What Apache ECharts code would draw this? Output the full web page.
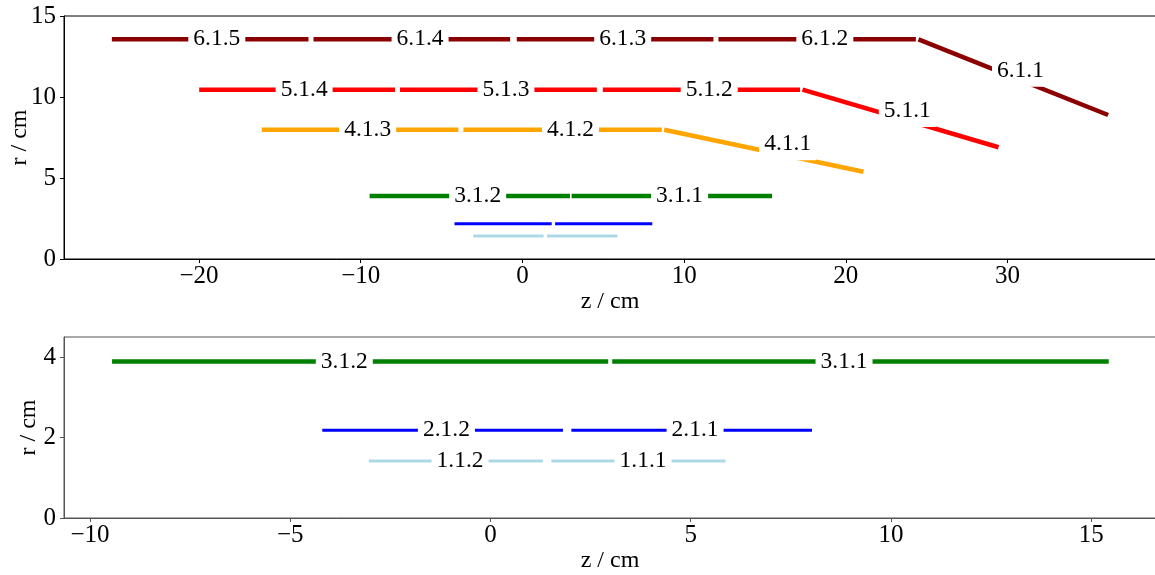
<!DOCTYPE html>
<html>
<head>
<meta charset="utf-8">
<script src="https://cdn.jsdelivr.net/npm/echarts@6/dist/echarts.min.js"></script>
<style>
html,body{margin:0;padding:0;background:#fff;}
#chart{width:1155px;height:575px;}
</style>
</head>
<body>
<div id="chart"></div>
<script>
// ---- data (z / cm, r / cm) ----
// Layer 6 (dark red)
const L6_z0 = [-25.39, -12.92, -0.35, 12.12, 24.49];
const L6_z1 = [-13.23, -0.76, 11.81, 24.33, 36.22];
const L6_r0 = [13.56, 13.56, 13.56, 13.56, 13.56];
const L6_r1 = [13.56, 13.56, 13.56, 13.56, 8.89];
const L6_names = ['6.1.5', '6.1.4', '6.1.3', '6.1.2', '6.1.1'];
const L6_labelZ = [-18.9, -6.33, 6.2, 18.7, 30.8];
const L6_labelR = [13.56, 13.56, 13.56, 13.56, 11.62];
// Layer 5 (red)
const L5_z0 = [-19.99, -7.57, 4.97, 17.32];
const L5_z1 = [-7.88, 4.60, 17.17, 29.44];
const L5_r0 = [10.45, 10.45, 10.45, 10.45];
const L5_r1 = [10.45, 10.45, 10.45, 6.90];
const L5_names = ['5.1.4', '5.1.3', '5.1.2', '5.1.1'];
const L5_labelZ = [-13.5, -1.02, 11.55, 23.8];
const L5_labelR = [10.45, 10.45, 10.45, 9.14];
// Layer 4 (orange)
const L4_z0 = [-16.12, -3.65, 8.76];
const L4_z1 = [-3.96, 8.62, 21.09];
const L4_r0 = [7.98, 7.98, 7.98];
const L4_r1 = [7.98, 7.98, 5.39];
const L4_names = ['4.1.3', '4.1.2', '4.1.1'];
const L4_labelZ = [-9.57, 2.97, 16.4];
const L4_labelR = [7.98, 7.98, 7.08];
// Layer 3 (green)
const L3_z0 = [-9.45, 3.04];
const L3_z1 = [2.94, 15.44];
const L3_r = [3.89, 3.89];
const L3_names = ['3.1.2', '3.1.1'];
const L3_labelZ_top = [-2.77, 9.72];
const L3_labelZ_bottom = [-3.65, 8.83];
// Layer 2 (blue)
const L2_z0 = [-4.20, 2.02];
const L2_z1 = [1.81, 8.03];
const L2_r = [2.18, 2.18];
const L2_names = ['2.1.2', '2.1.1'];
const L2_labelZ_bottom = [-1.1, 5.11];
// Layer 1 (light blue)
const L1_z0 = [-3.04, 1.52];
const L1_z1 = [1.31, 5.87];
const L1_r = [1.42, 1.42];
const L1_names = ['1.1.2', '1.1.1'];
const L1_labelZ_bottom = [-0.76, 3.81];
// tick labels
const topXTicks = [-20, -10, 0, 10, 20, 30];
const topYTicks = [0, 5, 10, 15];
const botXTicks = [-10, -5, 0, 5, 10, 15];
const botYTicks = [0, 2, 4];

const FONT = "'Liberation Serif', 'Times New Roman', Times, serif";
const fmt = v => (v < 0 ? '\u2212' + Math.abs(v) : String(v));

function segSeries(idx, z0, z1, r0, r1, color, width) {
  return z0.map((s, i) => ({
    type: 'line', xAxisIndex: idx, yAxisIndex: idx, z: 2,
    showSymbol: false, symbol: 'none', silent: true, animation: false,
    lineStyle: { color: color, width: width, cap: 'butt', opacity: 1 },
    data: [[s, r0[i]], [z1[i], r1[i]]]
  }));
}
function labelSeries(idx, names, zs, rs) {
  return {
    type: 'scatter', xAxisIndex: idx, yAxisIndex: idx, z: 10,
    symbolSize: 1, itemStyle: { color: 'rgba(0,0,0,0)', opacity: 1 }, silent: true, animation: false,
    label: {
      show: true, position: 'inside', formatter: p => p.name, opacity: 1,
      fontFamily: FONT, fontSize: 23.5, color: '#000',
      backgroundColor: '#fff', padding: [4, 5], lineHeight: 24
    },
    data: names.map((n, i) => ({ name: n, value: [zs[i], rs[i]] }))
  };
}

function xAxis(idx, min, max, ticks, color) {
  return {
    type: 'value', gridIndex: idx, min: min, max: max,
    name: 'z / cm', nameLocation: 'middle', nameGap: 31, nameMoveOverlap: false,
    nameTextStyle: { fontFamily: FONT, fontSize: 24, color: '#000' },
    axisLine: { show: true, onZero: false, lineStyle: { color: color, width: 1 } },
    axisTick: { show: true, length: 4, inside: false, customValues: ticks, lineStyle: { color: color } },
    axisLabel: { customValues: ticks, formatter: fmt, margin: 5, fontFamily: FONT, fontSize: 25, color: '#000' },
    splitLine: { show: false }
  };
}
function yAxis(idx, min, max, ticks, gap, color) {
  return {
    type: 'value', gridIndex: idx, min: min, max: max,
    name: 'r / cm', nameLocation: 'middle', nameGap: gap, nameRotate: 90, nameMoveOverlap: false,
    nameTextStyle: { fontFamily: FONT, fontSize: 24, color: '#000' },
    axisLine: { show: true, onZero: false, lineStyle: { color: color, width: 1 } },
    axisTick: { show: true, length: 4, inside: false, customValues: ticks, lineStyle: { color: color } },
    axisLabel: { customValues: ticks, formatter: fmt, margin: 8, fontFamily: FONT, fontSize: 25, color: '#000' },
    splitLine: { show: false }
  };
}

const series = [].concat(
  segSeries(0, L6_z0, L6_z1, L6_r0, L6_r1, '#8b0000', 4.5),
  segSeries(0, L5_z0, L5_z1, L5_r0, L5_r1, '#ff0000', 4.5),
  segSeries(0, L4_z0, L4_z1, L4_r0, L4_r1, '#ffa500', 4.5),
  segSeries(0, L3_z0, L3_z1, L3_r, L3_r, '#008000', 4.5),
  segSeries(0, L2_z0, L2_z1, L2_r, L2_r, '#0000ff', 3),
  segSeries(0, L1_z0, L1_z1, L1_r, L1_r, '#add8e6', 3),
  [labelSeries(0,
    L6_names.concat(L5_names, L4_names, L3_names),
    L6_labelZ.concat(L5_labelZ, L4_labelZ, L3_labelZ_top),
    L6_labelR.concat(L5_labelR, L4_labelR, L3_r))],
  segSeries(1, L3_z0, L3_z1, L3_r, L3_r, '#008000', 4.5),
  segSeries(1, L2_z0, L2_z1, L2_r, L2_r, '#0000ff', 3),
  segSeries(1, L1_z0, L1_z1, L1_r, L1_r, '#add8e6', 3),
  [labelSeries(1,
    L3_names.concat(L2_names, L1_names),
    L3_labelZ_bottom.concat(L2_labelZ_bottom, L1_labelZ_bottom),
    L3_r.concat(L2_r, L1_r))]
);

const chart = echarts.init(document.getElementById('chart'), null, { renderer: 'canvas' });
chart.setOption({
  backgroundColor: '#fff',
  animation: false,
  grid: [
    { left: 64, top: 16, width: 1092, height: 243, show: true, borderColor: '#000', borderWidth: 1, outerBoundsMode: 'none', containLabel: false },
    { left: 64, top: 337, width: 1092, height: 181, show: true, borderColor: '#555', borderWidth: 1, outerBoundsMode: 'none', containLabel: false }
  ],
  xAxis: [xAxis(0, -28.35, 39.18, topXTicks, '#000'), xAxis(1, -10.65, 16.62, botXTicks, '#555')],
  yAxis: [yAxis(0, 0, 15, topYTicks, 32, '#000'), yAxis(1, 0, 4.5, botYTicks, 23, '#555')],
  series: series
});
</script>
</body>
</html>
